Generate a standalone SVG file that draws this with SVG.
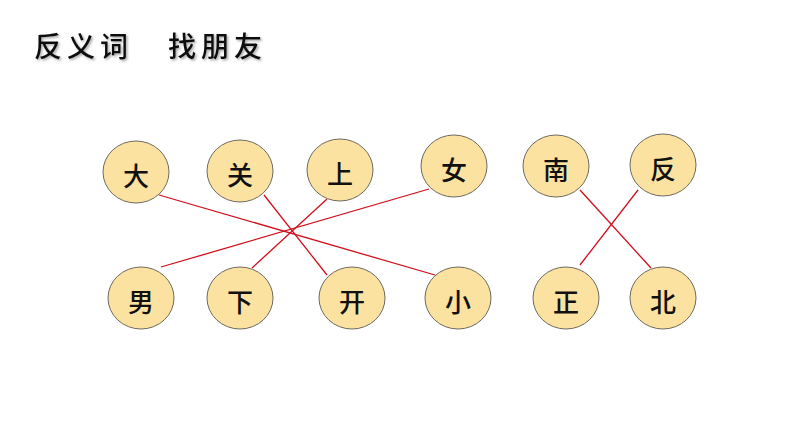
<svg xmlns="http://www.w3.org/2000/svg" width="794" height="447" viewBox="0 0 794 447">
<defs>
<style>
.n ellipse{fill:#FCE2A0;stroke:#6E6A60;stroke-width:1}
.n text{font-family:"Noto Sans CJK SC","Noto Sans CJK TC",sans-serif;font-size:26px;font-weight:500;fill:#111;text-anchor:middle;dominant-baseline:central}
.c line{stroke:#D0101C;stroke-width:1.3}
.t{font-family:"Noto Sans CJK SC",sans-serif;font-size:28px;font-weight:500;fill:#111}
</style>
<filter id="sh" x="-10%" y="-20%" width="130%" height="160%">
<feDropShadow dx="1.5" dy="1.5" stdDeviation="1" flood-color="#000" flood-opacity="0.35"/>
</filter>
</defs>
<rect width="794" height="447" fill="#fff"/>
<g id="title" filter="url(#sh)">
<text class="t" x="34" y="57" letter-spacing="5">反义词</text>
<text class="t" x="168" y="57" letter-spacing="5">找朋友</text>
</g>
<g id="connectors" class="c">
<line x1="159" y1="195" x2="435" y2="275"/>
<line x1="264" y1="195" x2="327" y2="275"/>
<line x1="327" y1="199" x2="252" y2="268"/>
<line x1="429" y1="189" x2="161" y2="267"/>
<line x1="580" y1="190" x2="651" y2="268"/>
<line x1="638" y1="190" x2="580" y2="265"/>
</g>
<g id="n-da" class="n"><ellipse cx="136" cy="172" rx="33" ry="31"/><text x="136" y="174">大</text></g>
<g id="n-guan" class="n"><ellipse cx="240" cy="171" rx="33" ry="31"/><text x="240" y="173">关</text></g>
<g id="n-shang" class="n"><ellipse cx="340" cy="170" rx="33" ry="31"/><text x="340" y="172">上</text></g>
<g id="n-nv" class="n"><ellipse cx="454" cy="166" rx="33" ry="31"/><text x="454" y="168">女</text></g>
<g id="n-nan2" class="n"><ellipse cx="556" cy="166" rx="33" ry="31"/><text x="556" y="168">南</text></g>
<g id="n-fan" class="n"><ellipse cx="663" cy="165" rx="33" ry="31"/><text x="663" y="167">反</text></g>
<g id="n-nan" class="n"><ellipse cx="141" cy="298" rx="33" ry="31"/><text x="141" y="300">男</text></g>
<g id="n-xia" class="n"><ellipse cx="240" cy="298" rx="33" ry="31"/><text x="240" y="300">下</text></g>
<g id="n-kai" class="n"><ellipse cx="352" cy="298" rx="33" ry="31"/><text x="352" y="300">开</text></g>
<g id="n-xiao" class="n"><ellipse cx="458" cy="298" rx="33" ry="31"/><text x="458" y="300">小</text></g>
<g id="n-zheng" class="n"><ellipse cx="566" cy="298" rx="33" ry="31"/><text x="566" y="300">正</text></g>
<g id="n-bei" class="n"><ellipse cx="663" cy="298" rx="33" ry="31"/><text x="663" y="300">北</text></g>
</svg>
